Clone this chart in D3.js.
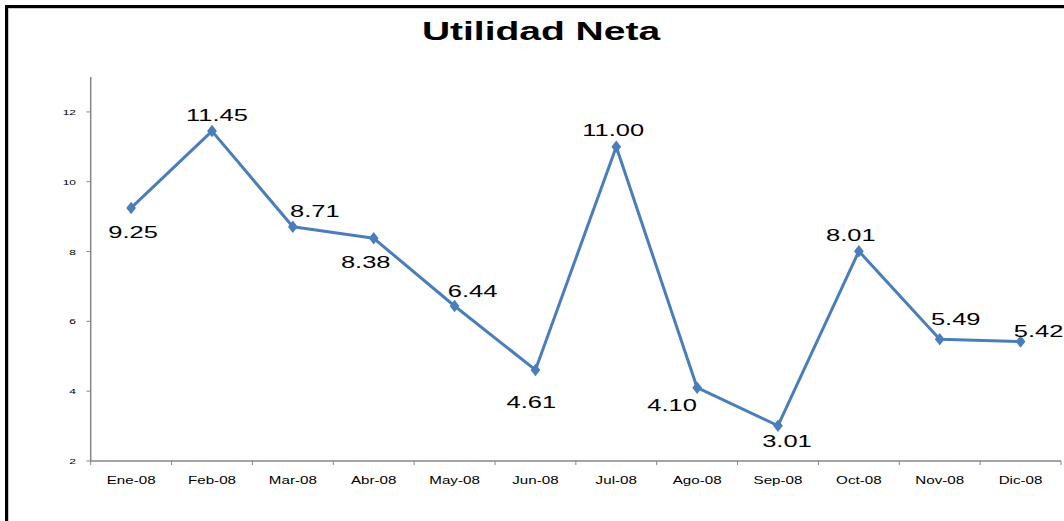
<!DOCTYPE html>
<html>
<head>
<meta charset="utf-8">
<script src="https://cdn.jsdelivr.net/npm/d3@7"></script>
<style>
  body { margin: 0; background: #fff; }
  svg { display: block; }
</style>
</head>
<body>
<div id="container"></div>
<script>
'use strict'
// data
const months = ["Ene-08","Feb-08","Mar-08","Abr-08","May-08","Jun-08","Jul-08","Ago-08","Sep-08","Oct-08","Nov-08","Dic-08"];
const utilidad = [9.25, 11.45, 8.71, 8.38, 6.44, 4.61, 11.00, 4.10, 3.01, 8.01, 5.49, 5.42];
const yTicks = [2, 4, 6, 8, 10, 12];
// where each data label sits relative to its point (dx, dy)
const labelOffsets = [[2,24],[5,-16],[22,-16],[-8,24],[18,-15],[-4,32],[-3,-17],[-25,17],[9,15],[-8,-16],[16,-20],[18,-11]];

const w = 1064;
const h = 521;
const sx = 1.5;  // the picture is stretched sideways, so text is too

const svg = d3.select("#container").append("svg")
              .attr("width", w).attr("height", h);

// chart frame (runs off the right and bottom edge)
svg.append("rect").attr("x", 6.5).attr("y", 6.5).attr("width", 1200).attr("height", 700)
   .attr("fill", "none").attr("stroke", "#000").attr("stroke-width", 3);
svg.append("rect").attr("x", 8.5).attr("y", 8.5).attr("width", 1200).attr("height", 700)
   .attr("fill", "none").attr("stroke", "#c8c8c8").attr("stroke-width", 1);

// title
svg.append("text").text("Utilidad Neta")
   .attr("transform", "translate(541,40) scale(" + sx + ",1)")
   .attr("text-anchor", "middle")
   .style("font-family", "Liberation Sans, Arial, sans-serif")
   .style("font-size", "26px").style("font-weight", "bold");

// scales
const xScale = d3.scaleBand().domain(months).range([90.7, 1061]);
const yScale = d3.scaleLinear().domain([2, 13]).range([461, 77]);
const xc = d => xScale(d) + xScale.bandwidth() / 2;

const axisColor = "#868686";

// y axis
const yAxis = svg.append("g");
yAxis.append("line").attr("x1", 90.7).attr("x2", 90.7).attr("y1", yScale(13)).attr("y2", yScale(2))
     .attr("stroke", axisColor).attr("stroke-width", 1.5);
yTicks.forEach(function(t) {
    yAxis.append("line").attr("x1", 86.5).attr("x2", 90.7).attr("y1", yScale(t)).attr("y2", yScale(t))
         .attr("stroke", axisColor).attr("stroke-width", 1);
    yAxis.append("text").text(t)
         .attr("transform", "translate(76," + (yScale(t) + 3) + ") scale(" + sx + ",1)")
         .attr("text-anchor", "end")
         .style("font-family", "Liberation Sans, Arial, sans-serif").style("font-size", "8px");
});

// x axis
const xAxis = svg.append("g");
xAxis.append("line").attr("x1", 90.7).attr("x2", 1061).attr("y1", yScale(2)).attr("y2", yScale(2))
     .attr("stroke", axisColor).attr("stroke-width", 1.5);
const edges = months.map(m => xScale(m)).concat([xScale.range()[1]]);
edges.forEach(function(x) {
    xAxis.append("line").attr("x1", x).attr("x2", x).attr("y1", yScale(2)).attr("y2", yScale(2) + 4)
         .attr("stroke", axisColor).attr("stroke-width", 1);
});
months.forEach(function(m) {
    xAxis.append("text").text(m)
         .attr("transform", "translate(" + xc(m) + ",483.5) scale(1.38,1)")
         .attr("text-anchor", "middle")
         .style("font-family", "Liberation Sans, Arial, sans-serif").style("font-size", "11px");
});

// line
const pts = months.map((m, i) => ({ m: m, v: utilidad[i] }));
const line = d3.line().x(d => xc(d.m)).y(d => yScale(d.v));
svg.append("path").datum(pts).attr("d", line)
   .attr("fill", "none").attr("stroke", "#4a7ebb").attr("stroke-width", 3)
   .attr("stroke-linejoin", "round");

// diamond markers
const diamond = d3.symbol().type(d3.symbolDiamond).size(45);
svg.selectAll(".marker").data(pts).enter().append("path")
   .attr("class", "marker")
   .attr("d", diamond)
   .attr("transform", d => "translate(" + xc(d.m) + "," + yScale(d.v) + ") scale(1.35,1)")
   .attr("fill", "#4a7ebb");

// data labels
svg.selectAll(".lbl").data(pts).enter().append("text")
   .attr("class", "lbl")
   .text(d => d.v.toFixed(2))
   .attr("transform", (d, i) => "translate(" + (xc(d.m) + labelOffsets[i][0]) + "," +
                                 (yScale(d.v) + labelOffsets[i][1] + 6) + ") scale(" + sx + ",1)")
   .attr("text-anchor", "middle")
   .style("font-family", "Liberation Sans, Arial, sans-serif").style("font-size", "17px");
</script>
</body>
</html>
